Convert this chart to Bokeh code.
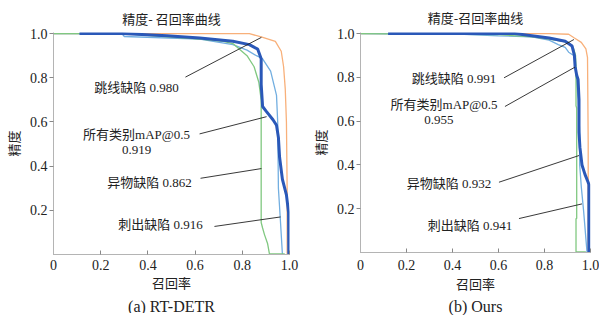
from bokeh.plotting import figure
from bokeh.layouts import row
from bokeh.models import Range1d, Label, FixedTicker, Title
from bokeh.embed import file_html
from bokeh.resources import INLINE

# ---------------- data ----------------
x_ticks = [0, 0.2, 0.4, 0.6, 0.8, 1.0]
x_tick_labels = ["0", "0.2", "0.4", "0.6", "0.8", "1.0"]
y_ticks = [0.2, 0.4, 0.6, 0.8, 1.0]
y_tick_labels = ["0.2", "0.4", "0.6", "0.8", "1.0"]

class_names = ["跳线缺陷", "所有类别mAP@0.5", "异物缺陷", "刺出缺陷"]

# (a) RT-DETR
a_jump_r = [0.0, 0.83, 0.88, 0.94, 0.965, 0.975, 0.982, 0.987, 0.99, 0.99]
a_jump_p = [1.0, 1.0, 0.985, 0.965, 0.92, 0.85, 0.75, 0.60, 0.30, 0.0]
a_stab_r = [0.0, 0.29, 0.30, 0.62, 0.76, 0.82, 0.86, 0.886, 0.92, 0.936, 0.945, 0.95, 0.953, 0.96, 0.97]
a_stab_p = [1.0, 1.0, 0.987, 0.975, 0.95, 0.925, 0.90, 0.886, 0.83, 0.76, 0.72, 0.60, 0.30, 0.18, 0.0]
a_foreign_r = [0.0, 0.30, 0.48, 0.62, 0.72, 0.76, 0.82, 0.85, 0.87, 0.88, 0.88, 0.886, 0.894, 0.907, 0.915, 0.98]
a_foreign_p = [1.0, 1.0, 0.985, 0.975, 0.965, 0.955, 0.90, 0.85, 0.78, 0.70, 0.145, 0.12, 0.09, 0.05, 0.003, 0.003]
a_all_r = [0.11, 0.29, 0.48, 0.62, 0.76, 0.83, 0.865, 0.88, 0.88, 0.886, 0.90, 0.93, 0.945, 0.953, 0.958, 0.97, 0.987, 0.996, 0.997]
a_all_p = [1.0, 1.0, 0.99, 0.98, 0.965, 0.95, 0.93, 0.886, 0.77, 0.67, 0.65, 0.61, 0.585, 0.53, 0.44, 0.34, 0.27, 0.19, 0.0]
a_scores = ["0.980", "0.919", "0.862", "0.916"]

# (b) Ours
b_jump_r = [0.0, 0.82, 0.905, 0.93, 0.96, 0.98, 0.987, 0.99, 0.99]
b_jump_p = [1.0, 1.0, 0.997, 0.98, 0.96, 0.93, 0.89, 0.50, 0.0]
b_stab_r = [0.0, 0.45, 0.60, 0.745, 0.82, 0.86, 0.89, 0.905, 0.927, 0.935, 0.94, 0.946, 0.953, 0.953, 0.96, 0.97, 0.985]
b_stab_p = [1.0, 0.997, 0.99, 0.985, 0.97, 0.95, 0.937, 0.915, 0.90, 0.85, 0.78, 0.70, 0.55, 0.40, 0.30, 0.19, 0.0]
b_foreign_r = [0.0, 0.60, 0.745, 0.82, 0.905, 0.927, 0.935, 0.937, 0.937, 0.94, 0.94, 0.937, 0.937, 0.98]
b_foreign_p = [1.0, 0.995, 0.985, 0.975, 0.96, 0.93, 0.90, 0.85, 0.67, 0.66, 0.155, 0.155, 0.003, 0.003]
b_all_r = [0.12, 0.67, 0.745, 0.82, 0.89, 0.92, 0.93, 0.933, 0.94, 0.946, 0.95, 0.95, 0.954, 0.963, 0.976, 0.99, 0.993, 0.993]
b_all_p = [1.0, 1.0, 0.99, 0.98, 0.965, 0.943, 0.90, 0.85, 0.81, 0.79, 0.70, 0.55, 0.48, 0.40, 0.357, 0.32, 0.31, 0.0]
b_scores = ["0.991", "0.955", "0.932", "0.941"]

# ---------------- styles ----------------
SERIF = "'Liberation Serif', 'Noto Sans CJK SC'"
CJK = "'Noto Sans CJK SC'"
C_JUMP = "#F8B07A"
C_STAB = "#72AEE0"
C_FOREIGN = "#80C880"
C_ALL = "#2A58B8"
AXIS_C = "#B4B4B4"
TEXT_C = "#222222"


def make_panel(fw, fh, mb, curves, notes, title, title_cfg, caption, cap_cfg,
               xtick_standoff, xlab_standoff, ylab_standoff):
    p = figure(frame_width=fw, frame_height=fh, output_backend="svg", toolbar_location=None,
               x_range=Range1d(0, 1.0), y_range=Range1d(0, 1.005),
               min_border_left=mb[0], min_border_right=mb[1],
               min_border_top=mb[2], min_border_bottom=mb[3])
    p.outline_line_color = None
    p.grid.visible = False

    for ax in (p.xaxis[0], p.yaxis[0]):
        ax.axis_line_color = AXIS_C
        ax.major_tick_line_color = "#888888"
        ax.minor_tick_line_color = None
        ax.major_label_text_font = SERIF
        ax.major_label_text_font_size = "14px"
        ax.major_label_text_color = TEXT_C
        ax.axis_label_text_font = CJK
        ax.axis_label_text_font_size = "13px"
        ax.axis_label_text_font_style = "normal"
        ax.axis_label_text_color = TEXT_C

    xa = p.xaxis[0]
    xa.ticker = FixedTicker(ticks=x_ticks)
    xa.major_label_overrides = dict(zip(x_ticks, x_tick_labels))
    xa.major_tick_in = 4
    xa.major_tick_out = 0
    xa.major_label_standoff = xtick_standoff
    xa.axis_label = "召回率"
    xa.axis_label_standoff = xlab_standoff

    ya = p.yaxis[0]
    ya.ticker = FixedTicker(ticks=y_ticks)
    ya.major_label_overrides = dict(zip(y_ticks, y_tick_labels))
    ya.major_tick_in = 0
    ya.major_tick_out = 4
    ya.major_label_standoff = 2
    ya.axis_label = "精度"
    ya.axis_label_standoff = ylab_standoff

    for (r, pr, color, lw) in curves:
        p.line(r, pr, line_color=color, line_width=lw)

    for (text_lines, x0, y0, x1, y1) in notes:
        for (t, tx, ty) in text_lines:
            p.add_layout(Label(x=tx, y=ty, text=t,
                               text_font=SERIF, text_font_size="13px", text_color=TEXT_C,
                               text_align="center", text_baseline="middle"))
        p.segment(x0=[x0], y0=[y0], x1=[x1], y1=[y1], line_color="#222222", line_width=0.9)

    p.title = Title(text=title, align="center", offset=title_cfg[0], standoff=title_cfg[1],
                    text_font=CJK, text_font_size="13px", text_font_style="normal",
                    text_color=TEXT_C)
    p.add_layout(Title(text=caption, align="center", offset=cap_cfg[0], standoff=cap_cfg[1],
                       text_font="Liberation Serif", text_font_size="16px",
                       text_font_style="normal", text_color=TEXT_C), "below")
    return p


a_curves = [(a_jump_r, a_jump_p, C_JUMP, 1.3),
            (a_stab_r, a_stab_p, C_STAB, 1.3),
            (a_foreign_r, a_foreign_p, C_FOREIGN, 1.3),
            (a_all_r, a_all_p, C_ALL, 3)]
a_notes = [
    ([(class_names[0] + " " + a_scores[0], 0.352, 0.755)], 0.559, 0.803, 0.881, 0.983),
    ([(class_names[1], 0.352, 0.541), (a_scores[1], 0.352, 0.472)], 0.619, 0.546, 0.903, 0.624),
    ([(class_names[2] + " " + a_scores[2], 0.407, 0.328)], 0.623, 0.345, 0.881, 0.389),
    ([(class_names[3] + " " + a_scores[3], 0.453, 0.135)], 0.682, 0.127, 0.962, 0.170),
]
b_curves = [(b_jump_r, b_jump_p, C_JUMP, 1.3),
            (b_stab_r, b_stab_p, C_STAB, 1.3),
            (b_foreign_r, b_foreign_p, C_FOREIGN, 1.3),
            (b_all_r, b_all_p, C_ALL, 3)]
b_notes = [
    ([(class_names[0] + " " + b_scores[0], 0.407, 0.793)], 0.624, 0.798, 0.928, 0.973),
    ([(class_names[1], 0.363, 0.676), (b_scores[1], 0.341, 0.604)], 0.628, 0.667, 0.933, 0.847),
    ([(class_names[2] + " " + b_scores[2], 0.385, 0.317)], 0.602, 0.321, 0.950, 0.443),
    ([(class_names[3] + " " + b_scores[3], 0.476, 0.124)], 0.689, 0.155, 0.963, 0.222),
]

# margins: left, right, top, bottom
p1 = make_panel(236, 222, (46, 18, 0, 0), a_curves, a_notes,
                "精度- 召回率曲线", (-4, 9), "(a) RT-DETR", (-2, 2), 5, 0, 4)
p2 = make_panel(230, 220, (44, 9, 0, 0), b_curves, b_notes,
                "精度-召回率曲线", (3, 11), "(b) Ours", (0, 1), 7, 1, 4)

layout = row(p1, p2)
open("out.html", "w").write(file_html(layout, INLINE))
